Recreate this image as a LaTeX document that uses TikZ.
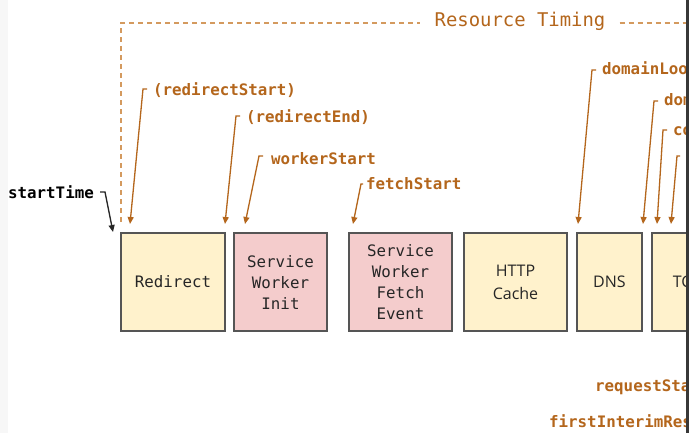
\documentclass[tikz,border=0pt]{standalone}
\usepackage{fontspec}
\usetikzlibrary{arrows.meta}
\newfontfamily\codefont{DejaVu Sans Mono}
\newfontfamily\uifont{Open Sans}
\definecolor{rtorange}{HTML}{B4661C}
\definecolor{rtframe}{HTML}{D49A5E}
\definecolor{boxyellow}{HTML}{FFF2CC}
\definecolor{boxpink}{HTML}{F4CCCC}
\definecolor{boxedge}{HTML}{555555}
\tikzset{
  x=1pt, y=-1pt,
  mark label/.style={anchor=west, inner sep=0pt, text=rtorange,
    font=\codefont\bfseries\fontsize{15.8}{18}\selectfont},
  side label/.style={anchor=west, inner sep=0pt, text=rtorange,
    font=\codefont\bfseries\fontsize{15.8}{18}\selectfont},
  pointer/.style={draw=rtorange, line width=1.3pt,
    -{Triangle[length=7pt,width=6pt]}},
  phase/.style={draw=boxedge, line width=1.3pt, minimum height=98pt,
    inner sep=0pt, align=center, text=black!85,
    font=\codefont\fontsize{15.8}{21}\selectfont},
  phasesans/.style={phase, font=\uifont\fontsize{16}{23}\selectfont},
  frame/.style={draw=rtframe, line width=1.4pt, dash pattern=on 5pt off 4pt},
}
\begin{document}
\begin{tikzpicture}
\useasboundingbox (0,0) rectangle (689,433);
\fill[white] (0,0) rectangle (689,433);
\fill[black!3] (0,0) rectangle (8,433);
\begin{scope}
\clip (0,0) rectangle (686,433);

% dashed Resource Timing frame
\node[inner sep=0pt, text=rtorange, font=\codefont\fontsize{18.9}{22}\selectfont]
  (rt) at (520,21) {Resource Timing};
\coordinate (frameLow) at (121,222);
\coordinate (frameCorner) at (121,23);
\coordinate (frameEnd) at (690,23);
\draw[frame] (frameLow) -- (frameCorner) -- ([xshift=-14pt]rt.west |- frameCorner);
\draw[frame] ([xshift=14pt]rt.east |- frameCorner) -- (frameEnd);

% phases
\node[phase, fill=boxyellow, minimum width=104pt] (redirect) at (173,282) {Redirect};
\node[phase, fill=boxpink, minimum width=93pt] (swinit) at (280.5,282) {Service\\Worker\\Init};
\node[phase, fill=boxpink, minimum width=103pt] (swfetch) at (400.5,282) {Service\\Worker\\Fetch\\Event};
\node[phasesans, fill=boxyellow, minimum width=103pt] (cache) at (515.5,282) {HTTP\\Cache};
\node[phasesans, fill=boxyellow, minimum width=65pt] (dns) at (609.5,282) {DNS};
\node[phasesans, fill=boxyellow, minimum width=70pt] (tcp) at (687,282) {TCP};

% timestamp labels
\node[mark label] (rs) at (153,90) {(redirectStart)};
\node[mark label] (re) at (246,117) {(redirectEnd)};
\node[mark label] (ws) at (271,159) {workerStart};
\node[mark label] (fs) at (366,184) {fetchStart};
\node[mark label] (dls) at (602,70) {domainLookupStart};
\node[mark label] (dle) at (664,101) {domainLookupEnd};
\node[mark label] (cs) at (673,130) {connectStart};
\node[mark label] (scs) at (685,156) {secureConnectionStart};
\node[mark label] (rqs) at (595,387) {requestStart};
\node[mark label] (fir) at (549,423) {firstInterimResponseStart};
\node[anchor=east, inner sep=0pt, text=black,
  font=\codefont\bfseries\fontsize{15.8}{18}\selectfont] (st) at (94,192) {startTime};

% arrow tips on the timeline
\coordinate (tRS) at (130,224);
\coordinate (tRE) at (225,224);
\coordinate (tWS) at (245,224);
\coordinate (tFS) at (353,224);
\coordinate (tDLS) at (578,224);
\coordinate (tDLE) at (643,224);
\coordinate (tCS) at (657,224);
\coordinate (tSCS) at (671,224);
\coordinate (tST) at (113,232);

\draw[pointer] ([xshift=-6pt,yshift=1pt]rs.west) -- ++(-4,0) -- (tRS);
\draw[pointer] ([xshift=-6pt,yshift=1pt]re.west) -- ++(-4,0) -- (tRE);
\draw[pointer] ([xshift=-8pt,yshift=3pt]ws.west) -- ++(-4,0) -- (tWS);
\draw[pointer] ([xshift=-3pt,yshift=0pt]fs.west) -- ++(-2,0) -- (tFS);
\draw[pointer] ([xshift=-6pt]dls.west) -- ++(-4,0) -- (tDLS);
\draw[pointer] ([xshift=-6pt]dle.west) -- ++(-4,0) -- (tDLE);
\draw[pointer] ([xshift=-6pt]cs.west) -- ++(-4,0) -- (tCS);
\draw[pointer] ([xshift=-5pt]scs.west) -- ++(-3,0) -- (tSCS);
\draw[line width=1.3pt, draw=black!85, -{Triangle[length=7pt,width=6pt]}]
  ([xshift=6pt]st.east) -- ++(5,0) -- (tST);
\end{scope}

% dark edge on the right
\fill[black!78] (686,0) rectangle (689,433);
\end{tikzpicture}
\end{document}
